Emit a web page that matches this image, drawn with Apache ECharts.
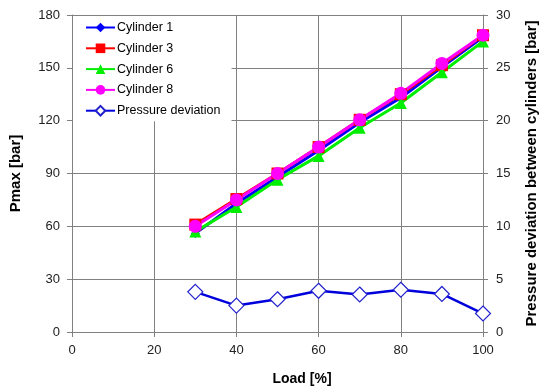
<!DOCTYPE html>
<html><head><meta charset="utf-8">
<script src="https://cdn.jsdelivr.net/npm/echarts@6/dist/echarts.min.js"></script>
<style>html,body{margin:0;padding:0;background:#fff}#c{width:550px;height:392px}</style>
</head><body><div id="c"></div>
<script>
const loads = [30, 40, 50, 60, 70, 80, 90, 100];
const cyl1 = [56, 73, 88, 103, 119, 133, 150.5, 167.5];
const cyl3 = [61, 75.5, 90, 105, 120.5, 135, 151.5, 168.5];
const cyl6 = [57, 71, 86.5, 100, 116, 130, 147.5, 165];
const cyl8 = [60, 75, 90, 105, 120.5, 135.5, 152.5, 168.5];
const deviation = [3.8, 2.5, 3.1, 3.9, 3.55, 4.0, 3.6, 1.75];
const leftTicks = [0, 30, 60, 90, 120, 150, 180];
const rightTicks = [0, 5, 10, 15, 20, 25, 30];
const xTicks = [0, 20, 40, 60, 80, 100];

const pair = a => loads.map((x, i) => [x, a[i]]);
const FONT = 'Liberation Sans, Arial, sans-serif';
const chart = echarts.init(document.getElementById('c'), null, {renderer: 'canvas'});
const lineSeries = (name, data, color, symbol, size) => ({
  name, type: 'line', data: pair(data), yAxisIndex: 0,
  symbol, symbolSize: size,
  lineStyle: {color, width: 3}, itemStyle: {color},
  emphasis: {disabled: true}, animation: false
});
chart.setOption({
  animation: false,
  textStyle: {fontFamily: FONT},
  grid: {left: 72, right: 67, top: 15, bottom: 60},
  legend: {
    orient: 'vertical', left: 73, top: 16, itemGap: 7.8,
    itemWidth: 29, itemHeight: 12, backgroundColor: '#fff',
    padding: [5, 11, 4, 12],
    textStyle: {fontFamily: FONT, fontSize: 12.5, color: '#000', padding: [0, 0, 0, -3]},
    data: ['Cylinder 1', 'Cylinder 3', 'Cylinder 6', 'Cylinder 8', 'Pressure deviation']
  },
  xAxis: {
    type: 'value', min: 0, max: 100, interval: 20,
    name: 'Load [%]', nameLocation: 'middle', nameGap: 40,
    nameTextStyle: {fontFamily: FONT, fontSize: 14, fontWeight: 'bold', color: '#000', padding: [0, 0, 0, 49]},
    axisLine: {show: true, lineStyle: {color: '#808080', width: 1}},
    axisTick: {show: true, length: 5, lineStyle: {color: '#808080'}},
    axisLabel: {fontFamily: FONT, fontSize: 13, color: '#222', margin: 12,
      formatter: v => xTicks.includes(v) ? String(v) : ''},
    splitLine: {show: true, lineStyle: {color: '#808080', width: 1}}
  },
  yAxis: [{
    type: 'value', min: 0, max: 180, interval: 30,
    name: 'Pmax [bar]', nameLocation: 'middle', nameGap: 48.5, nameRotate: 90,
    nameTextStyle: {fontFamily: FONT, fontSize: 15, fontWeight: 'bold', color: '#000'},
    axisLine: {show: true, lineStyle: {color: '#808080'}},
    axisTick: {show: true, length: 5, lineStyle: {color: '#808080'}},
    axisLabel: {fontFamily: FONT, fontSize: 13, color: '#222', margin: 12,
      formatter: v => leftTicks.includes(v) ? String(v) : ''},
    splitLine: {show: true, lineStyle: {color: '#808080', width: 1}}
  }, {
    type: 'value', min: 0, max: 30, interval: 5, position: 'right',
    name: 'Pressure deviation between cylinders [bar]', nameLocation: 'middle', nameGap: 41.5, nameRotate: 90,
    nameTextStyle: {fontFamily: FONT, fontSize: 15, fontWeight: 'bold', color: '#000'},
    axisLine: {show: true, lineStyle: {color: '#808080'}},
    axisTick: {show: true, length: 5, lineStyle: {color: '#808080'}},
    axisLabel: {fontFamily: FONT, fontSize: 13, color: '#222', margin: 13,
      formatter: v => rightTicks.includes(v) ? String(v) : ''},
    splitLine: {show: false}
  }],
  series: [
    lineSeries('Cylinder 1', cyl1, '#0000ff', 'diamond', 9),
    lineSeries('Cylinder 3', cyl3, '#ff0000', 'rect', 12),
    lineSeries('Cylinder 6', cyl6, '#00ee00', 'triangle', 12),
    lineSeries('Cylinder 8', cyl8, '#ff00ff', 'circle', 13),
    {
      name: 'Pressure deviation', type: 'line', yAxisIndex: 1, data: pair(deviation),
      symbol: 'diamond', symbolSize: 15, showAllSymbol: true,
      lineStyle: {color: '#0000dd', width: 2.5},
      itemStyle: {color: '#fff', borderColor: '#2222cc', borderWidth: 1.2},
      emphasis: {disabled: true}, animation: false
    }
  ]
});
</script></body></html>
